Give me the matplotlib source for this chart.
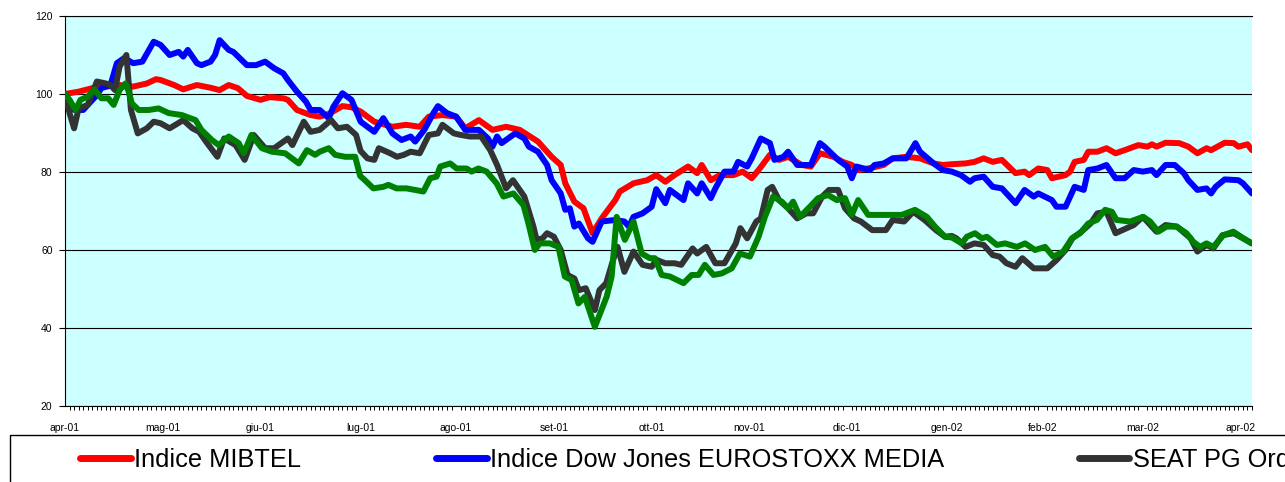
import matplotlib
matplotlib.use("Agg")
import matplotlib.pyplot as plt
from matplotlib.lines import Line2D
from matplotlib.patches import Rectangle

plt.rcParams["font.family"] = ["Liberation Sans", "DejaVu Sans"]

# trading-day index (0 = first day of April 2001) and index values (base 100)
mibtel_day = [0, 3, 6, 9, 12, 15, 18, 20, 21, 24, 26, 29, 32, 34, 36, 38, 40, 43, 45, 48,
              49, 51, 54, 56, 58, 61, 63, 65, 68, 72, 75, 78, 80, 83, 86, 88, 91, 94, 97, 100,
              104, 107, 109, 110, 112, 114, 116, 118, 121, 122, 125, 128, 130, 132, 134, 137, 139, 140, 142, 144,
              147, 149, 151, 152.5, 155, 157, 159, 162, 164, 166, 169, 171, 173, 174.5, 177, 180, 182, 185, 188, 191,
              193, 195, 198, 200, 202, 204, 206, 209, 211, 212, 214, 216, 217, 220, 221, 222, 224, 225, 227, 229,
              231, 233, 236, 238, 239, 240, 242, 245, 247, 249, 251, 252, 255, 257, 258, 260, 261]
mibtel_val = [100, 100.6, 101.5, 101.9, 102.3, 101.9, 102.7, 103.8, 103.6, 102.3, 101.2, 102.3, 101.6, 101, 102.3, 101.5, 99.5, 98.5, 99.2, 98.9,
              98.5, 95.9, 94.6, 94.2, 94.9, 96.9, 96.6, 95.5, 92.9, 91.6, 92.1, 91.6, 94.2, 94.6, 94.2, 91.2, 93.3, 90.8, 91.6, 90.8,
              87.8, 83.9, 81.8, 77.1, 72.4, 70.7, 64.3, 68.1, 72.8, 75, 77.1, 77.9, 79.2, 77.5, 79.2, 81.4, 79.7, 81.8, 77.9, 79.2,
              79.2, 80.1, 78.4, 80.5, 84.4, 83.1, 83.9, 81.8, 81.4, 84.8, 83.9, 82.6, 81.8, 80.5, 81, 81.8, 83.5, 83.9, 83.5, 82.2,
              81.8, 82.0, 82.2, 82.6, 83.5, 82.6, 83.1, 79.7, 80.1, 79.2, 80.9, 80.5, 78.4, 79.2, 80.1, 82.6, 83.1, 85.2, 85.2, 86.1,
              84.8, 85.6, 86.9, 86.5, 87.1, 86.5, 87.5, 87.4, 86.5, 84.8, 86.1, 85.6, 87.5, 87.4, 86.5, 87.1, 85.6]

media_day = [0, 2, 4, 5, 7, 8, 10, 11.4, 13, 15, 17, 19.5, 21, 23, 25, 26, 27, 29, 30, 32,
             33, 34, 36, 37, 40, 42, 44, 46, 48, 49, 51, 53, 54, 56, 58, 59, 61, 63, 65, 68,
             70, 72, 74, 76, 77, 79, 81, 82, 84, 86, 88, 91, 93, 94, 95, 96, 99, 101, 102, 104,
             106, 107, 109, 110, 111, 112, 113, 115, 116, 118, 121, 123, 124, 125, 127, 129, 130, 132, 133, 136,
             137, 139, 140, 142, 143, 145, 147, 148, 150, 151, 153, 155, 156, 158, 159, 161, 164, 166, 167, 170,
             172, 173, 174, 177, 178, 180, 182, 185, 187, 188, 191, 193, 195, 197, 199, 200, 202, 204, 206, 209,
             211, 213, 214, 217, 218, 220, 222, 224, 225, 227, 229, 231, 233, 235, 237, 239, 240, 242, 244, 246,
             247, 249, 251, 252, 253, 255, 258, 259, 261]
media_val = [100, 95.9, 95.9, 97.2, 99.7, 101.5, 102.3, 107.9, 109.2, 107.9, 108.3, 113.4, 112.6, 110, 110.8, 109.6, 111.3, 107.9, 107.4, 108.3,
             110, 113.8, 111.3, 110.8, 107.4, 107.4, 108.3, 106.6, 105.3, 103.6, 100.6, 98, 95.9, 95.9, 93.8, 96.7, 100.2, 98.5, 92.9, 90.3,
             93.8, 89.9, 88.2, 89.1, 87.8, 90.8, 95.1, 96.9, 95.1, 94.2, 90.8, 90.8, 88.6, 86.5, 89.1, 87.4, 89.9, 88.6, 86.5, 85.2,
             81.8, 77.9, 74.5, 70.3, 70.7, 66, 66.8, 63, 62.1, 67.3, 67.7, 67.3, 66, 68.5, 69.4, 71.1, 75.6, 72, 75.4, 72.8,
             77.1, 74.5, 77.1, 73.3, 75.8, 80.1, 80.1, 82.6, 81.4, 83.5, 88.6, 87.4, 83.1, 83.9, 85.2, 81.8, 81.8, 87.4, 86.5, 83.1,
             81.4, 78.4, 81.4, 80.5, 81.8, 82.2, 83.5, 83.5, 87.4, 85.2, 82.2, 80.5, 80.1, 79.2, 77.5, 78.4, 78.8, 76.2, 75.8, 72,
             75.4, 73.7, 74.5, 72.8, 71.1, 71.1, 76.2, 75.4, 80.5, 80.9, 81.8, 78.4, 78.4, 80.5, 80.1, 80.5, 79.2, 81.8, 81.8, 79.7,
             77.9, 75.4, 75.8, 74.5, 76.2, 78.1, 77.9, 77.1, 74.5]

ord_day = [0, 1, 2, 3, 5, 7, 9, 10, 11, 12, 13.5, 14.5, 16, 18, 19.5, 21, 23, 26, 28, 29.5,
           31, 33.5, 35, 37.5, 39.5, 41.5, 44, 46, 49, 50, 52.5, 54, 56, 58.5, 60, 62, 64, 65, 66.5, 68,
           69, 71.5, 73, 74.5, 76, 78, 80, 82, 83, 85.5, 87, 89, 91.5, 93.5, 95, 97, 98.5, 101, 103, 103.7,
           105, 106, 107.5, 109, 110.5, 112, 113, 114.5, 116.5, 117.5, 119, 120.5, 121.5, 123, 125, 127, 129, 130, 132, 134,
           135.5, 138, 139, 141, 143, 145, 147.5, 148.5, 150, 152, 153, 154.5, 155.5, 157, 159, 161, 163, 164.5, 166.5, 168,
           170, 171.5, 173.5, 175, 177.5, 180.5, 182, 184.5, 186.5, 189, 191.5, 193.5, 195, 196, 198, 200, 202, 204, 205.5, 207,
           209, 210.5, 213, 216, 218, 220, 221.5, 223.5, 225.5, 227, 229, 231, 232.5, 235, 237, 240, 242, 244.5, 247.5, 249,
           251, 252.5, 254.5, 257, 259, 261]
ord_val = [100, 95.1, 91.2, 96.3, 97.2, 103.2, 102.7, 102.3, 101, 107, 110, 95.9, 89.9, 91.2, 92.9, 92.5, 91.2, 93.3, 91.2, 90.3,
           87.8, 83.9, 88.6, 86.9, 83.1, 89.5, 86.1, 86.1, 88.6, 86.9, 92.9, 90.3, 90.8, 93.3, 91.2, 91.6, 89.5, 85.4, 83.5, 83.1,
           86.1, 84.8, 83.9, 84.4, 85.2, 84.8, 89.5, 89.9, 92.1, 89.9, 89.5, 89.1, 89.1, 85.6, 81.8, 75.8, 77.9, 73.7, 66, 62.6,
           63, 64.3, 63.4, 60, 53.6, 52.7, 49.7, 50.2, 44.6, 49.7, 51.5, 57.4, 60.8, 54.4, 59.6, 56.2, 55.7, 57.5, 56.6, 56.6,
           56.2, 60.4, 59.1, 60.8, 56.6, 56.6, 61.7, 65.6, 63, 67.3, 68.1, 75.4, 76.2, 72.8, 70.7, 68.1, 69.4, 69.4, 73.7, 75.4,
           75.4, 70.7, 68.1, 67.3, 65.1, 65.1, 67.7, 67.3, 69.8, 67.7, 65.1, 63.4, 63.6, 63, 60.8, 61.7, 61.3, 58.7, 58.3, 56.6,
           55.7, 57.9, 55.3, 55.3, 57.4, 60, 63, 64.7, 66.8, 69.4, 69.8, 64.3, 65.1, 66.4, 68.5, 64.7, 66.4, 66, 63, 59.6,
           61.3, 60.4, 63.8, 64.3, 63, 61.7]

risp_day = [0, 1, 2.3, 3.4, 5, 6.5, 8, 9.5, 10.7, 12, 13.3, 14, 14.7, 16.2, 18.4, 20.6, 22.8, 25.7, 28.7, 30,
            32.3, 33.8, 36, 38.2, 39.3, 41, 43.3, 45.5, 48.4, 51.4, 53.2, 55, 56, 58, 59.4, 61.6, 63.8, 64.9, 66.3, 67.8,
            70, 71.1, 72.9, 75.1, 78.8, 80.3, 81.7, 82.5, 84.7, 86.1, 88.3, 89.4, 90.9, 92.7, 94.9, 96.4, 98.6, 100.8, 101.9, 103.3,
            104.4, 106.6, 108.5, 109.9, 111.4, 112.9, 114.3, 116.5, 119.1, 120.2, 121.3, 123.1, 125, 126.8, 128.6, 129.7, 131.2, 133, 136, 137.8,
            139.3, 140.7, 142.6, 144.4, 146.6, 148.4, 150.6, 152.5, 153.9, 155.7, 157.6, 159, 160.1, 161.6, 163.8, 165.6, 167.8, 169.7, 171.5, 173,
            174.4, 176.6, 180.3, 184, 186.9, 189.5, 191.3, 193.5, 195, 197.2, 198.3, 200.1, 201.6, 202.7, 204.9, 206.7, 209.3, 211.1, 213.3, 215.5,
            217.3, 219.5, 221.4, 223.2, 225, 226.9, 228.7, 230.2, 231.2, 234.2, 237.1, 238.6, 240.4, 242.2, 244.4, 246.6, 248.1, 249.6, 251, 252.5,
            254.7, 256.9, 259.1, 260.9]
risp_val = [100, 98.5, 95.9, 98.5, 99.3, 101.2, 98.9, 98.9, 97.2, 101, 102.7, 100.6, 97.6, 95.9, 95.9, 96.3, 95.1, 94.6, 93.3, 90.8,
            88.2, 86.9, 89.1, 87.4, 84.8, 89.5, 86.1, 85.2, 84.8, 82.2, 85.6, 84.4, 85.2, 86.1, 84.4, 83.9, 83.9, 79, 77.5, 75.8,
            76.2, 76.7, 75.8, 75.8, 75, 78.4, 78.8, 81.4, 82.2, 80.9, 80.9, 80.1, 80.9, 80.1, 77.1, 73.7, 74.5, 71.5, 66.8, 60,
            61.7, 61.7, 60.8, 53.2, 52.3, 46.3, 48, 40.3, 48, 53.2, 68.5, 62.6, 67.3, 59.1, 57.9, 57.9, 53.6, 53.2, 51.5, 53.6,
            53.6, 56.2, 53.6, 54, 55.3, 59.1, 58.3, 63.4, 68.5, 73.7, 72.4, 70.7, 72.4, 68.5, 71.1, 73.3, 74.1, 72.8, 73.3, 69,
            72.8, 69, 69, 69, 70.3, 68.5, 66, 63.4, 63.2, 61.7, 63.4, 64.3, 63, 63.4, 61.3, 61.7, 60.8, 61.7, 60, 60.8,
            58.3, 59.6, 63, 64.3, 66.8, 67.7, 70.3, 69.8, 67.7, 67.3, 68.5, 67.3, 64.7, 66, 66, 64.3, 62.1, 60.8, 61.7, 60.8,
            63.8, 64.7, 63, 61.7]

month_labels = ["apr-01", "mag-01", "giu-01", "lug-01", "ago-01", "set-01", "ott-01",
                "nov-01", "dic-01", "gen-02", "feb-02", "mar-02", "apr-02"]
month_day = [0, 21.5, 43, 65, 86, 107.5, 129, 150.5, 172, 194, 215, 237, 258.5]
n_days = 261

names = ["Indice MIBTEL", "Indice Dow Jones EUROSTOXX MEDIA", "SEAT PG Ord.", "SEAT PG Risp."]
colors = ["#FF0000", "#0000FF", "#333333", "#008000"]

W, H = 1285, 482
fig = plt.figure(figsize=(W / 100, H / 100), dpi=100)
ax = fig.add_axes([65 / W, 1 - 406 / H, 1187 / W, 390 / H])
ax.set_facecolor("#CCFFFF")

series = [(mibtel_day, mibtel_val), (media_day, media_val), (ord_day, ord_val), (risp_day, risp_val)]
for (d, v), c in zip(series, colors):
    ax.plot(d, v, color=c, lw=4.3, solid_joinstyle="round", solid_capstyle="round", zorder=3)

ax.set_xlim(0, n_days)
ax.set_ylim(20, 120)
ax.set_yticks(range(20, 121, 20))
ax.yaxis.grid(True, color="black", lw=0.8)
ax.set_axisbelow(True)
ax.tick_params(axis="y", direction="out", length=4, width=0.8, pad=5, labelsize=7.5)

ax.set_xticks(month_day)
ax.set_xticklabels(month_labels)
ax.set_xticks(range(0, n_days + 1), minor=True)
ax.tick_params(axis="x", which="major", length=0, pad=12, labelsize=7.5)
ax.tick_params(axis="x", which="minor", direction="out", length=3, width=0.7)

ax.spines["right"].set_visible(False)
ax.spines["top"].set_linewidth(0.8)
ax.spines["left"].set_linewidth(0.8)
ax.spines["bottom"].set_linewidth(0.8)

# legend box below the chart (runs off the canvas like the original)
fig.add_artist(Rectangle((10 / W, -0.1), 1.0, 0.1 + (1 - 435 / H), transform=fig.transFigure,
                         fill=False, edgecolor="black", lw=1))
handles = [Line2D([], [], color=c, lw=5, solid_capstyle="round") for c in colors]
fig.legend(handles, names, loc="center left", bbox_to_anchor=(80 / W, 1 - 460 / H), ncol=4,
           frameon=False, fontsize=18.25, handlelength=2, handletextpad=0.15, columnspacing=5.3,
           borderpad=0, borderaxespad=0)

fig.savefig("out.png", dpi=100)
